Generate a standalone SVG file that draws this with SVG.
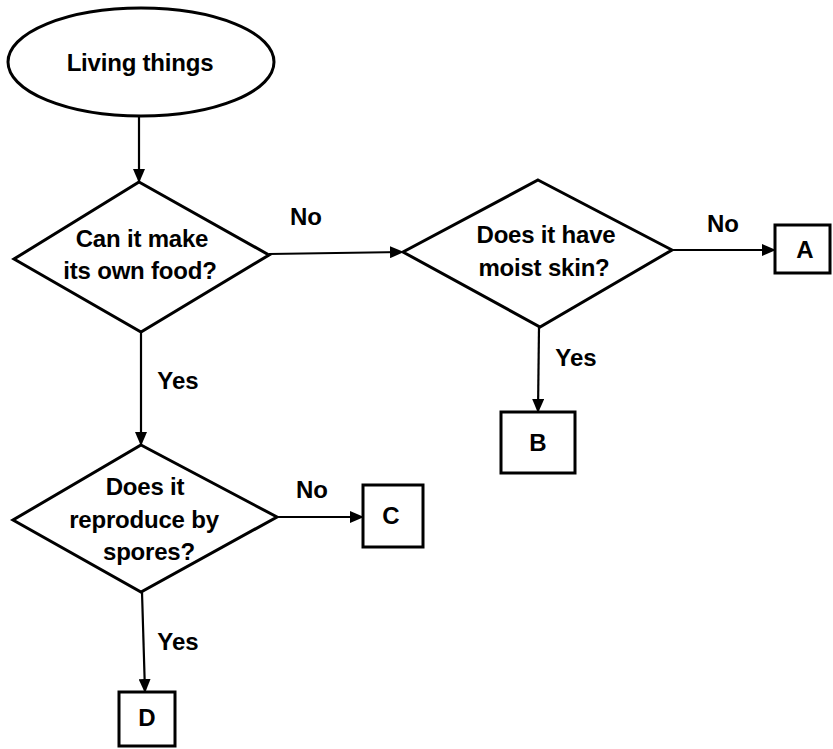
<svg xmlns="http://www.w3.org/2000/svg" width="833" height="749" viewBox="0 0 833 749">
<style>
.shape{fill:#fff;stroke:#000;stroke-width:3}
.box{fill:#fff;stroke:#000;stroke-width:3}
.t{font-family:"Liberation Sans",Arial,sans-serif;font-weight:bold;font-size:24px;fill:#000;text-anchor:middle;letter-spacing:-0.2px}
.lbl{font-family:"Liberation Sans",Arial,sans-serif;font-weight:bold;font-size:24px;fill:#000;text-anchor:middle}
.conn{stroke:#000;stroke-width:2.2;fill:none;marker-end:url(#arr)}
</style>
<defs>
<marker id="arr" markerWidth="14" markerHeight="12" refX="13" refY="6" orient="auto" markerUnits="userSpaceOnUse">
<path d="M0,0 L14,6 L0,12 Z" fill="#000"/>
</marker>
</defs>
<g id="connectors">
<line class="conn" x1="139" y1="117" x2="139" y2="182"/>
<line class="conn" x1="269" y1="254" x2="403" y2="252"/>
<line class="conn" x1="672" y1="250" x2="775" y2="250"/>
<line class="conn" x1="539" y1="327" x2="538" y2="412"/>
<line class="conn" x1="141" y1="332" x2="141" y2="445"/>
<line class="conn" x1="277" y1="517" x2="363" y2="517"/>
<line class="conn" x1="142" y1="592" x2="145" y2="692"/>
<text class="lbl" x="306" y="225">No</text>
<text class="lbl" x="723" y="232">No</text>
<text class="lbl" x="576" y="366">Yes</text>
<text class="lbl" x="178" y="389">Yes</text>
<text class="lbl" x="312" y="498">No</text>
<text class="lbl" x="178" y="650">Yes</text>
</g>
<g id="living-things">
<ellipse class="shape" cx="141" cy="62" rx="133" ry="54"/>
<text class="t" x="140" y="71">Living things</text>
</g>
<g id="make-food">
<polygon class="shape" points="139,182 269,255 141,332 14,259"/>
<text class="t" x="142" y="247">Can it make</text>
<text class="t" x="140" y="279">its own food?</text>
</g>
<g id="moist-skin">
<polygon class="shape" points="538,180 672,250 540,327 403,252"/>
<text class="t" x="546" y="243">Does it have</text>
<text class="t" x="544" y="276">moist skin?</text>
</g>
<g id="spores">
<polygon class="shape" points="141,445 277,517 141,592 13,520"/>
<text class="t" x="145" y="495">Does it</text>
<text class="t" x="144" y="528">reproduce by</text>
<text class="t" x="149" y="560">spores?</text>
</g>
<g id="box-a">
<rect class="box" x="775" y="225" width="55" height="48"/>
<text class="lbl" x="805" y="258">A</text>
</g>
<g id="box-b">
<rect class="box" x="501" y="412" width="74" height="61"/>
<text class="lbl" x="538" y="451">B</text>
</g>
<g id="box-c">
<rect class="box" x="363" y="485" width="60" height="62"/>
<text class="lbl" x="391" y="524">C</text>
</g>
<g id="box-d">
<rect class="box" x="119" y="692" width="56" height="54"/>
<text class="lbl" x="147" y="726">D</text>
</g>
</svg>
